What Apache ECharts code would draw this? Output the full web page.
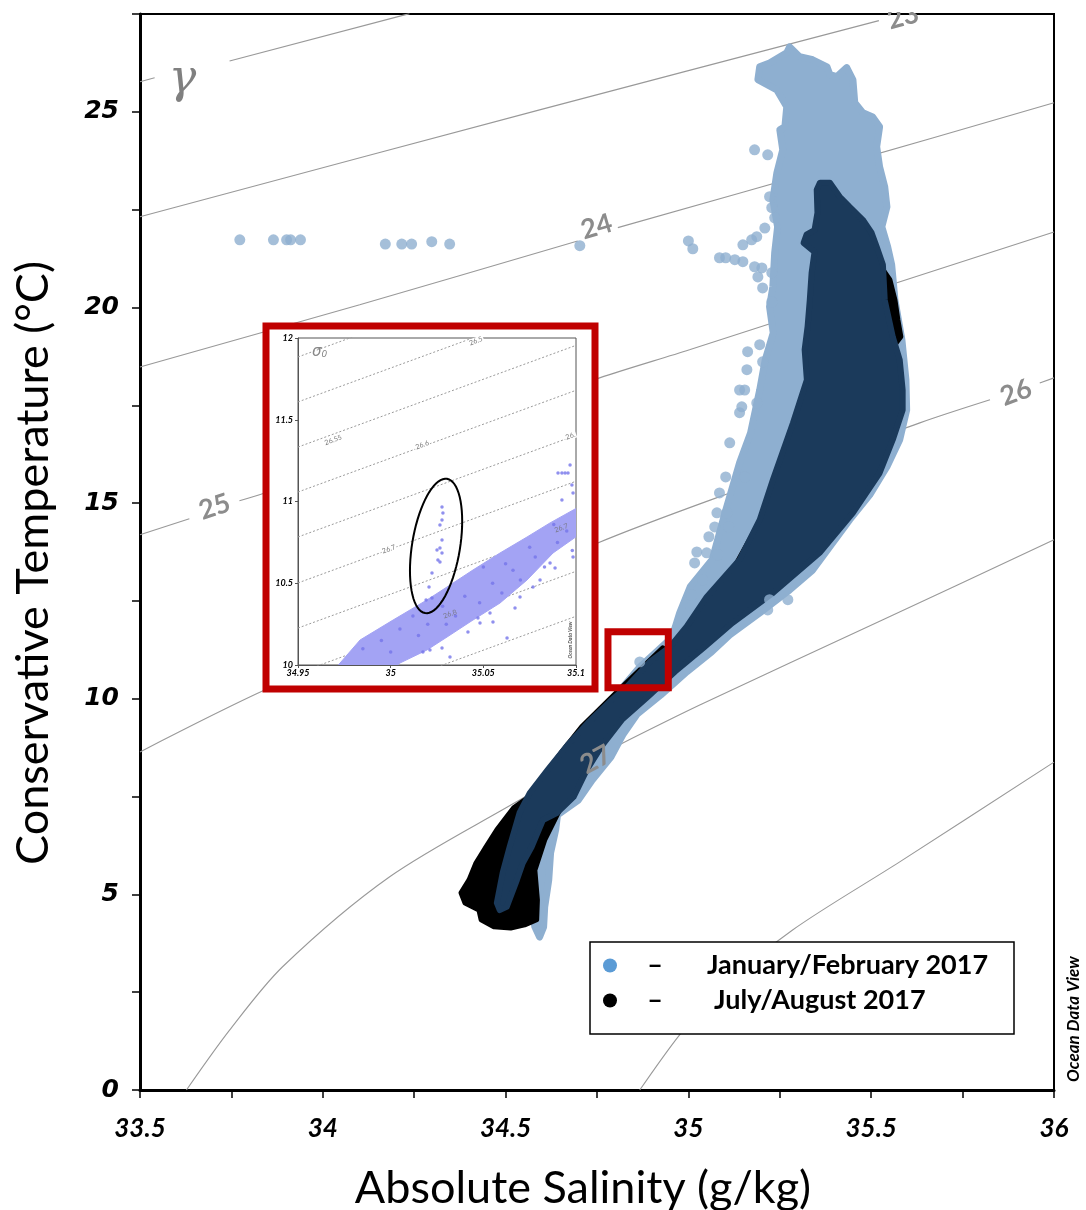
<!DOCTYPE html>
<html><head><meta charset="utf-8">
<script src="https://cdn.jsdelivr.net/npm/echarts/dist/echarts.min.js"></script>
<style>html,body{margin:0;padding:0;background:#fff}#c{width:1086px;height:1210px}</style>
</head><body><div id="c"></div>
<script>
// ---------------- DATA (Absolute Salinity g/kg, Conservative Temperature °C) ----------------
const JF = 'January/February 2017';
const JA = 'July/August 2017';

// outline of the dense January/February cloud
const JF_CLOUD = [[35.277,26.66],[35.304,26.41],[35.340,26.33],[35.379,26.15],[35.387,25.95],[35.406,25.90],[35.433,26.13],[35.450,25.82],[35.455,25.23],[35.477,24.98],[35.504,24.87],[35.523,24.62],[35.515,24.11],[35.523,23.59],[35.537,23.08],[35.543,22.57],[35.529,22.06],[35.545,21.55],[35.556,21.09],[35.565,20.19],[35.584,19.17],[35.595,18.15],[35.597,17.38],[35.578,16.62],[35.543,15.93],[35.496,15.21],[35.441,14.57],[35.340,13.29],[35.277,12.78],[35.195,12.19],[35.113,11.63],[35.064,11.20],[34.996,10.69],[34.925,10.10],[34.860,9.61],[34.822,9.10],[34.788,8.51],[34.737,7.92],[34.699,7.41],[34.642,7.03],[34.637,6.65],[34.623,6.06],[34.618,5.37],[34.607,4.68],[34.604,4.17],[34.593,3.91],[34.580,4.17],[34.574,4.52],[34.538,5.11],[34.525,6.39],[34.566,7.41],[34.648,8.44],[34.757,9.59],[34.867,10.81],[34.955,11.56],[34.976,12.19],[35.005,12.86],[35.065,13.55],[35.100,14.75],[35.140,16.03],[35.170,16.79],[35.195,17.89],[35.210,18.66],[35.232,19.35],[35.222,20.02],[35.231,20.53],[35.236,21.40],[35.244,22.06],[35.231,22.75],[35.242,23.44],[35.258,24.03],[35.250,24.54],[35.264,24.62],[35.269,25.13],[35.242,25.56],[35.190,25.82],[35.195,26.15],[35.222,26.25],[35.269,26.51]];

// isolated January/February points
const JF_POINTS = [[35.181,24.03],[35.217,23.90],[35.222,22.83],[35.228,22.55],[35.236,22.29],[35.209,22.03],[35.187,21.81],[35.149,21.60],[35.173,21.73],[35.085,21.27],[35.102,21.27],[35.127,21.22],[35.149,21.17],[35.181,21.04],[35.201,21.01],[35.190,20.78],[35.228,20.89],[35.203,20.50],[35.228,20.14],[35.195,19.05],[35.203,18.61],[35.162,18.87],[35.160,18.41],[35.154,17.89],[35.146,17.46],[35.187,17.56],[35.140,17.89],[35.140,17.31],[35.113,16.54],[35.102,15.67],[35.154,15.67],[35.085,15.26],[35.078,14.75],[35.105,14.75],[35.072,14.39],[35.110,14.39],[35.056,14.14],[35.023,13.75],[35.017,13.47],[35.050,13.73],[35.080,13.68],[35.039,13.04],[35.009,12.65],[35.222,12.53],[35.272,12.53],[35.217,12.27],[34.867,10.94],
  [33.773,21.73],[33.865,21.73],[33.901,21.73],[33.912,21.73],[33.939,21.73],[34.171,21.62],[34.216,21.62],[34.243,21.62],[34.298,21.68],[34.347,21.62],[34.703,21.58],[35.000,21.70],[35.012,21.50]];

// outline of the July/August cloud (black edge parts)
const JA_CLOUD = [[35.523,21.09],[35.551,20.71],[35.565,20.19],[35.573,19.68],[35.581,19.25],[35.565,19.05],[35.469,19.17],[35.031,11.76],[34.867,10.43],[34.930,11.30],[34.816,10.28],[34.749,9.66],[34.708,9.28],[34.651,8.61],[34.607,8.05],[34.571,7.54],[34.522,7.21],[34.476,6.65],[34.446,6.21],[34.419,5.80],[34.400,5.37],[34.378,5.04],[34.389,4.78],[34.427,4.60],[34.433,4.35],[34.468,4.17],[34.514,4.14],[34.552,4.22],[34.585,4.35],[34.587,4.86],[34.580,5.62],[34.607,6.39],[34.675,7.67],[34.812,9.59],[35.100,12.20],[35.250,15.00]];

// outline of the core where both periods overlap (dark navy)
const CORE_CLOUD = [[35.360,23.19],[35.387,23.19],[35.414,22.83],[35.441,22.57],[35.477,22.24],[35.501,21.91],[35.515,21.55],[35.532,21.09],[35.537,20.19],[35.559,19.25],[35.578,18.66],[35.586,17.89],[35.586,17.38],[35.559,16.62],[35.523,15.77],[35.450,14.75],[35.359,13.73],[35.231,12.70],[35.121,11.94],[35.045,11.33],[34.963,10.69],[34.889,10.05],[34.818,9.46],[34.765,8.82],[34.722,8.18],[34.686,7.49],[34.640,7.08],[34.602,6.90],[34.571,6.21],[34.547,5.80],[34.531,5.37],[34.503,4.68],[34.484,4.60],[34.476,4.78],[34.492,5.55],[34.511,6.21],[34.538,7.08],[34.566,7.59],[34.615,8.18],[34.670,8.82],[34.725,9.38],[34.790,9.97],[34.831,10.30],[34.894,10.94],[34.949,11.32],[34.995,11.84],[35.050,12.60],[35.140,13.55],[35.195,14.57],[35.231,15.59],[35.286,17.05],[35.324,18.15],[35.318,18.92],[35.326,19.51],[35.332,20.19],[35.337,20.88],[35.345,21.42],[35.315,21.65],[35.323,21.86],[35.345,21.98],[35.353,22.42],[35.351,23.01]];

// neutral density (gamma) contours, each a list of segments
const GAMMA_LINES = [
  [[[33.5,25.77],[33.54,25.87]], [[33.745,26.30],[34.237,27.51]]],
  [[[33.5,22.32],[34.593,25.05],[35.521,27.33]]],
  [[[33.5,18.48],[34.101,20.07],[34.697,21.70]], [[34.807,22.04],[35.414,23.65],[36.0,25.23]]],
  [[[33.5,14.19],[33.635,14.60]], [[33.772,15.06],[33.841,15.26],[34.757,18.20],[35.003,18.92],[36.0,21.93]]],
  [[[33.5,8.64],[33.841,10.22],[34.752,13.98],[35.195,15.54],[35.633,17.05],[35.825,17.64]], [[35.961,18.07],[36.0,18.20]]],
  [[[33.627,0],[33.745,1.53],[33.890,3.15],[34.183,5.45],[34.525,7.34],[34.692,8.23]], [[34.810,8.82],[35.031,9.84],[35.532,12.02],[36.0,14.06]]],
  [[[34.867,0],[34.976,1.41],[35.085,2.56],[35.285,4.09],[35.578,5.83],[36.0,8.38]]]
];
const GAMMA_LABELS = [['23',35.587,27.42],['24',34.749,22.06],['25',33.704,14.90],['26',35.896,17.82],['27',34.747,8.44]];
const GAMMA_SYMBOL = ['γ',33.616,25.82];
const ZOOM_BOX = [[34.78,10.28],[34.945,11.71]];

// ---------------- inset (sigma0) ----------------
const SIGMA_LEFT  = [11.884,11.609,11.333,11.058,10.783,10.502,10.226,9.951,9.676];   // T at SA=34.95
const SIGMA_RIGHT = [12.506,12.231,11.955,11.680,11.405,11.124,10.848,10.573,10.298]; // T at SA=35.10
const SIGMA_LABELS = [['26.5',35.046,11.982,true],['26.55',34.969,11.376,true],['26.6',35.017,11.346,true],['26.',35.097,11.401,true],['26.7',34.999,10.709,true],['26.8',35.032,10.312,false],['26.7',35.092,10.838,false]];
const INSET_BAND = [[34.967,9.94],[34.9727,10.012],[34.9835,10.153],[35.0013,10.275],[35.0196,10.398],[35.0304,10.477],[35.0444,10.581],[35.0590,10.685],[35.0736,10.783],[35.0860,10.869],[35.102,10.970],[35.102,10.80],[35.0876,10.685],[35.0736,10.520],[35.0590,10.379],[35.0444,10.275],[35.0304,10.171],[35.0196,10.092],[35.0050,10.012],[34.997,9.94]];
const INSET_POINTS = [[35.0174,10.080],[35.0212,10.092],[35.0277,10.104],[35.0320,10.049],[35.0417,10.202],[35.0471,10.287],[35.0482,10.257],[35.0536,10.318],[35.0552,10.263],[35.0628,10.165],[35.0671,10.349],[35.0698,10.416],[35.0768,10.477],[35.0806,10.520],[35.0860,10.624],[35.0887,10.593],[35.0984,10.661],[35.0924,11.009],[35.0978,11.101],[35.0984,11.052],[35.0903,11.174],[35.0924,11.174],[35.0941,11.174],[35.0957,11.174],[35.0968,11.223],
  [34.985,10.10],[34.995,10.15],[35.005,10.22],[35.012,10.30],[35.020,10.25],[35.028,10.36],[35.035,10.30],[35.040,10.42],[35.048,10.38],[35.055,10.50],[35.060,10.44],[35.066,10.58],[35.070,10.52],[35.078,10.66],[35.083,10.60],[35.090,10.75],[35.095,10.82],[35.098,10.70],[35.050,10.60],[35.075,10.72],[35.030,10.25],[35.000,10.08],[35.015,10.18],[35.062,10.62],[35.088,10.86]];
const ELLIPSE_POINTS = [[35.0277,10.966],[35.0282,10.930],[35.0277,10.887],[35.0266,10.856],[35.0277,10.765],[35.0266,10.716],[35.0250,10.703],[35.0277,10.685],[35.0255,10.642],[35.0266,10.630],[35.0223,10.563],[35.0207,10.477],[35.0191,10.398],[35.0223,10.410]];
const ELLIPSE_CENTER = [35.0245,10.728];

// ---------------- STYLE ----------------
const C_LB = '#8eafd0', C_NAVY = '#1b3a5b', C_BLACK = '#000', C_LEG_BLUE = '#5b9bd5';
const C_GRAY = '#8c8c8c', C_RED = '#c00000', C_PURPLE = '#7474ea', C_PURPLE_FILL = '#a3a3f4';

function polySeries(name, pts, color, z, xi, lw) {
  return {
    type: 'custom', name, xAxisIndex: xi, yAxisIndex: xi, z, silent: true, clip: true,
    data: [pts[0]], encode: {x: 0, y: 1}, itemStyle: {color},
    renderItem: (params, api) => ({
      type: 'polygon',
      shape: {points: pts.map(p => api.coord(p))},
      style: {fill: color, stroke: color, lineWidth: lw, lineJoin: 'round'}
    })
  };
}

const series = [];
GAMMA_LINES.forEach(line => line.forEach(seg => series.push({
  type: 'line', data: seg, xAxisIndex: 0, yAxisIndex: 0, z: 1, silent: true,
  showSymbol: false, symbol: 'none', smooth: 0.3,
  lineStyle: {color: '#999', width: 1.1}
})));
series.push(polySeries(JF, JF_CLOUD, C_LB, 2, 0, 7));
series.push({type: 'scatter', name: JF, data: JF_POINTS, xAxisIndex: 0, yAxisIndex: 0, z: 2,
  symbolSize: 11, itemStyle: {color: C_LB}, silent: true});
series.push(polySeries(JA, JA_CLOUD, C_BLACK, 2, 0, 5));
series.push(polySeries('core', CORE_CLOUD, C_NAVY, 2, 0, 6));

// inset
SIGMA_LEFT.forEach((yl, i) => series.push({
  type: 'line', data: [[34.95, yl], [35.1, SIGMA_RIGHT[i]]], xAxisIndex: 1, yAxisIndex: 1, z: 11,
  silent: true, symbol: 'none', lineStyle: {color: '#9a9a9a', width: 1, type: [2, 2]}
}));
series.push(polySeries('band', INSET_BAND, C_PURPLE_FILL, 12, 1, 1));
series.push({type: 'scatter', data: INSET_POINTS.concat(ELLIPSE_POINTS), xAxisIndex: 1, yAxisIndex: 1, z: 13,
  symbolSize: 3.5, itemStyle: {color: C_PURPLE}, silent: true});

const tickFont = {fontFamily: 'Lato', fontSize: 26, fontWeight: 'bold', fontStyle: 'italic', color: '#000'};
const insetFont = {fontFamily: 'Lato', fontSize: 9, fontWeight: 'bold', fontStyle: 'italic', color: '#000'};

const option = {
  backgroundColor: '#fff',
  animation: false,
  grid: [
    {left: 140, right: 32, top: 14, bottom: 120, show: true, borderColor: '#000', borderWidth: 2,
      containLabel: false, outerBoundsMode: 'none'},
    {left: 298, top: 338, width: 278, height: 327, show: true, borderColor: '#555', borderWidth: 1,
      backgroundColor: 'rgba(0,0,0,0)', z: 10, containLabel: false, outerBoundsMode: 'none'}
  ],
  xAxis: [
    {type: 'value', gridIndex: 0, min: 33.5, max: 36, interval: 0.5,
      axisLine: {show: true, lineStyle: {color: '#000', width: 3}},
      axisTick: {show: true, length: 8, lineStyle: {color: '#000', width: 1.5}},
      minorTick: {show: true, splitNumber: 2, length: 8, lineStyle: {color: '#000', width: 1.5}},
      splitLine: {show: false}, minorSplitLine: {show: false},
      axisLabel: Object.assign({margin: 26}, tickFont),
      name: 'Absolute Salinity (g/kg)', nameLocation: 'middle', nameGap: 76,
      nameTextStyle: {fontFamily: 'Lato', fontSize: 45, color: '#000', padding: [0, 28, 0, 0]}},
    {type: 'value', gridIndex: 1, min: 34.95, max: 35.1, interval: 0.05, z: 10,
      axisLine: {show: true, lineStyle: {color: '#555', width: 1}},
      axisTick: {show: true, length: 3, lineStyle: {color: '#555'}},
      splitLine: {show: false},
      axisLabel: Object.assign({margin: 4}, insetFont)}
  ],
  yAxis: [
    {type: 'value', gridIndex: 0, min: 0, max: 27.5, interval: 5,
      axisLine: {show: true, lineStyle: {color: '#000', width: 3}},
      axisTick: {show: true, length: 8, lineStyle: {color: '#000', width: 1.5}},
      minorTick: {show: true, splitNumber: 2, length: 8, lineStyle: {color: '#000', width: 1.5}},
      splitLine: {show: false}, minorSplitLine: {show: false},
      axisLabel: {margin: 21, showMaxLabel: false, fontFamily: "'DejaVu Sans',sans-serif", fontSize: 25,
        fontWeight: 'bold', fontStyle: 'italic', color: '#000'},
      name: 'Conservative Temperature (°C)', nameLocation: 'middle', nameGap: 84,
      nameTextStyle: {fontFamily: 'Lato', fontSize: 45, color: '#000', padding: [0, 22, 0, 0]}},
    {type: 'value', gridIndex: 1, min: 10, max: 12, interval: 0.5, z: 10,
      axisLine: {show: true, lineStyle: {color: '#555', width: 1}},
      axisTick: {show: true, length: 3, lineStyle: {color: '#555'}},
      splitLine: {show: false},
      axisLabel: Object.assign({margin: 5}, insetFont)}
  ],
  legend: {
    data: [{name: JF, itemStyle: {color: C_LEG_BLUE}}, {name: JA, itemStyle: {color: C_BLACK}}],
    orient: 'vertical', left: 603, top: 952, padding: 0, itemGap: 8,
    itemWidth: 14, itemHeight: 14, icon: 'circle', selectedMode: false, z: 6,
    formatter: name => '{d|–}' + (name === JF ? '{t|' : '{u|') + name + '}',
    textStyle: {
      rich: {
        d: {width: 66, align: 'center', fontFamily: 'Lato', fontSize: 27, fontWeight: 'bold', color: '#000', lineHeight: 28},
        t: {padding: [0, 0, 0, 19], fontFamily: 'Lato', fontSize: 27, fontWeight: 'bold', color: '#000', lineHeight: 28},
        u: {padding: [0, 0, 0, 26], fontFamily: 'Lato', fontSize: 27, fontWeight: 'bold', color: '#000', lineHeight: 28}
      }
    }
  },
  series
};

const chart = echarts.init(document.getElementById('c'), null, {renderer: 'canvas'});
chart.setOption(option);

// ---------------- annotations positioned through the axes ----------------
const P0 = p => chart.convertToPixel({gridIndex: 0}, p);
const P1 = p => chart.convertToPixel({gridIndex: 1}, p);
const GAMMA_ROT = [15, 16, 18, 20, 28];
const g = [];
GAMMA_LABELS.forEach((l, i) => {
  const p = P0([l[1], l[2]]);
  g.push({type: 'text', x: p[0], y: p[1], rotation: GAMMA_ROT[i] * Math.PI / 180, z: 4,
    style: {text: l[0], fill: C_GRAY, font: "bold 27px Lato", align: 'center', verticalAlign: 'middle'}});
});
{
  const p = P0([GAMMA_SYMBOL[1], GAMMA_SYMBOL[2]]);
  g.push({type: 'text', x: p[0], y: p[1], z: 4,
    style: {text: GAMMA_SYMBOL[0], fill: '#808080', font: "italic 46px 'DejaVu Serif'", align: 'center', verticalAlign: 'middle'}});
}
// mask above top frame (label 23 is cut by the frame)
g.push({type: 'rect', shape: {x: 860, y: 0, width: 90, height: 12}, style: {fill: '#fff'}, z: 20});
// inset frame
g.push({type: 'rect', shape: {x: 266, y: 326, width: 329, height: 363}, style: {fill: '#fff', stroke: C_RED, lineWidth: 7}, z: 5});
// small zoom box
{
  const a = P0(ZOOM_BOX[0]), b = P0(ZOOM_BOX[1]);
  g.push({type: 'rect', shape: {x: Math.min(a[0], b[0]), y: Math.min(a[1], b[1]), width: Math.abs(b[0] - a[0]), height: Math.abs(b[1] - a[1])},
    style: {fill: 'none', stroke: C_RED, lineWidth: 7}, z: 6});
}
// sigma labels in inset
SIGMA_LABELS.forEach(l => {
  const p = P1([l[1], l[2]]);
  g.push({type: 'text', x: p[0], y: p[1], rotation: 20 * Math.PI / 180, z: 14,
    style: {text: l[0], fill: l[3] ? '#777' : 'rgba(110,110,110,0.8)', font: "7px Lato", align: 'center', verticalAlign: 'middle',
      backgroundColor: l[3] ? '#fff' : null, padding: [0, 1]}});
});
{
  const p = P1([34.9576, 11.914]);
  g.push({type: 'text', x: p[0], y: p[1], z: 14,
    style: {text: '{a|σ}{b|0}', fill: '#777', align: 'left', verticalAlign: 'middle',
      rich: {a: {font: "italic 15px 'DejaVu Sans'", fill: '#888'}, b: {font: "italic 9px 'DejaVu Sans'", fill: '#888', padding: [6, 0, 0, 0]}}}});
  const q = P1([35.0968, 10.153]);
  g.push({type: 'text', x: q[0], y: q[1], rotation: Math.PI / 2, z: 14,
    style: {text: 'Ocean Data View', fill: '#555', font: "italic bold 5px Lato", align: 'center', verticalAlign: 'middle'}});
  // ellipse around the outlying profile
  const c = P1(ELLIPSE_CENTER), rx = 24, ry = 68, th = 9.3 * Math.PI / 180;
  const pts = [];
  for (let k = 0; k < 72; k++) {
    const t = k / 72 * Math.PI * 2, x = rx * Math.cos(t), y = ry * Math.sin(t);
    pts.push([c[0] + x * Math.cos(th) - y * Math.sin(th), c[1] + x * Math.sin(th) + y * Math.cos(th)]);
  }
  g.push({type: 'polygon', shape: {points: pts}, style: {fill: 'none', stroke: '#000', lineWidth: 2}, z: 15});
}
// legend box
g.push({type: 'rect', shape: {x: 590, y: 942, width: 424, height: 92}, style: {fill: '#fff', stroke: '#000', lineWidth: 1.5}, z: 3});
// Ocean Data View credit
g.push({type: 'text', x: 1074, y: 1019, rotation: Math.PI / 2, z: 4,
  style: {text: 'Ocean Data View', fill: '#000', font: "italic bold 17px Lato", align: 'center', verticalAlign: 'middle'}});

chart.setOption({graphic: g});
</script></body></html>
